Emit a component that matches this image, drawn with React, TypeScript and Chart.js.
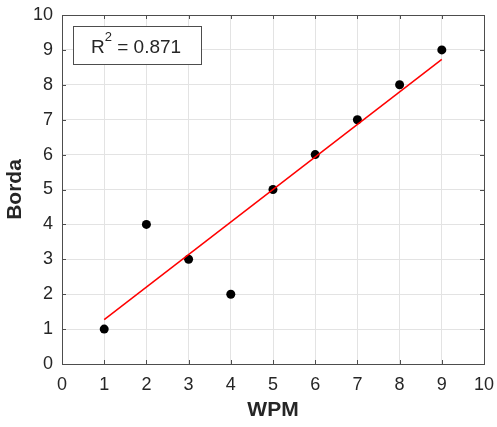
import React, { useEffect, useRef } from "react";
import { Chart, registerables } from "chart.js";

Chart.register(...registerables);

const wpm = [1, 2, 3, 4, 5, 6, 7, 8, 9];
const borda = [1, 4, 3, 2, 5, 6, 7, 8, 9];
const fitX = [1, 9];
const fitY = [1.27, 8.73];
const tickValues = [0, 1, 2, 3, 4, 5, 6, 7, 8, 9, 10];
const xTitle = "WPM";
const yTitle = "Borda";
const r2Text = "0.871";

const FONT = '"Liberation Sans", Arial, Helvetica, sans-serif';
const TEXT = "#262626";
const AXIS = "#4d4d4d";

const boxPlugin = {
  id: "matlabBox",
  afterDraw(chart: any) {
    const { ctx, chartArea } = chart;
    const { left, right, top, bottom } = chartArea;
    const xs = chart.scales.x;
    const ys = chart.scales.y;
    ctx.save();
    ctx.strokeStyle = AXIS;
    ctx.lineWidth = 1;
    ctx.strokeRect(Math.round(left) + 0.5, Math.round(top) + 0.5, Math.round(right - left), Math.round(bottom - top));
    const tl = 4;
    ctx.beginPath();
    tickValues.forEach((v) => {
      const px = Math.round(xs.getPixelForValue(v)) + 0.5;
      ctx.moveTo(px, bottom);
      ctx.lineTo(px, bottom - tl);
      ctx.moveTo(px, top);
      ctx.lineTo(px, top + tl);
      const py = Math.round(ys.getPixelForValue(v)) + 0.5;
      ctx.moveTo(left, py);
      ctx.lineTo(left + tl, py);
      ctx.moveTo(right, py);
      ctx.lineTo(right - tl, py);
    });
    ctx.stroke();

    ctx.fillStyle = TEXT;
    ctx.font = `bold 21px ${FONT}`;
    ctx.textAlign = "center";
    ctx.textBaseline = "middle";
    ctx.fillText(xTitle, (left + right) / 2, 410);
    ctx.save();
    ctx.translate(15, (top + bottom) / 2);
    ctx.rotate(-Math.PI / 2);
    ctx.fillText(yTitle, 0, 0);
    ctx.restore();

    const bx = 73, by = 26, bw = 128, bh = 38;
    ctx.fillStyle = "#ffffff";
    ctx.fillRect(bx, by, bw, bh);
    ctx.strokeStyle = AXIS;
    ctx.strokeRect(bx + 0.5, by + 0.5, bw, bh);
    ctx.fillStyle = TEXT;
    ctx.textAlign = "left";
    ctx.textBaseline = "alphabetic";
    ctx.font = `19px ${FONT}`;
    let x = 91;
    const baseY = 53;
    ctx.fillText("R", x, baseY);
    x += ctx.measureText("R").width;
    ctx.font = `13px ${FONT}`;
    ctx.fillText("2", x, baseY - 12);
    x += ctx.measureText("2").width;
    ctx.font = `19px ${FONT}`;
    ctx.fillText(" = " + r2Text, x, baseY);
    ctx.restore();
  },
};

const zeroPad = (s: any) => {
  s.paddingLeft = 0;
  s.paddingRight = 0;
  s.paddingTop = 0;
  s.paddingBottom = 0;
};

export default function App() {
  const ref = useRef<HTMLCanvasElement | null>(null);
  useEffect(() => {
    if (!ref.current) return;
    const chart = new Chart(ref.current, {
      type: "scatter",
      data: {
        datasets: [
          {
            type: "line",
            data: fitX.map((x, i) => ({ x, y: fitY[i] })),
            borderColor: "#ff0000",
            borderWidth: 1.5,
            pointRadius: 0,
            showLine: true,
            fill: false,
          },
          {
            data: wpm.map((x, i) => ({ x, y: borda[i] })),
            backgroundColor: "#000000",
            borderColor: "#000000",
            pointRadius: 4.5,
            pointBorderWidth: 0,
          },
        ],
      },
      options: {
        responsive: false,
        animation: false,
        layout: { padding: { left: 0, top: 15, right: 13, bottom: 0 } },
        plugins: { legend: { display: false }, tooltip: { enabled: false } },
        scales: {
          x: {
            type: "linear",
            min: 0,
            max: 10,
            afterFit: (s: any) => { s.height = 63; zeroPad(s); },
            ticks: {
              stepSize: 1,
              color: TEXT,
              font: { family: FONT, size: 18 },
              padding: 10,
              maxRotation: 0,
            },
            grid: { color: "#e3e3e3", drawTicks: false },
            border: { display: false },
          },
          y: {
            type: "linear",
            min: 0,
            max: 10,
            afterFit: (s: any) => { s.width = 62; zeroPad(s); },
            ticks: {
              stepSize: 1,
              color: TEXT,
              font: { family: FONT, size: 18 },
              padding: 9,
            },
            grid: { color: "#e3e3e3", drawTicks: false },
            border: { display: false },
          },
        },
      },
      plugins: [boxPlugin],
    } as any);
    return () => chart.destroy();
  }, []);
  return (
    <div style={{ position: "absolute", left: 0, top: 0, width: 497, height: 427, background: "#fff" }}>
      <canvas ref={ref} width={497} height={427} />
    </div>
  );
}
